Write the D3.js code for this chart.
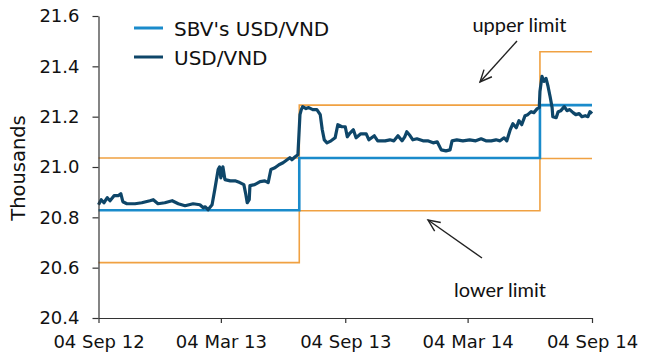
<!DOCTYPE html>
<html>
<head>
<meta charset="utf-8">
<script src="https://cdn.jsdelivr.net/npm/d3@7/dist/d3.min.js"></script>
<style>
  html, body { margin: 0; padding: 0; background: #fff; }
  svg { display: block; }
</style>
</head>
<body>
<svg id="chart" width="660" height="360"></svg>
<script>
// ---- data ----
const xTickDates = ["2012-09-04", "2013-03-04", "2013-09-04", "2014-03-04", "2014-09-04"];
const xTickLabels = ["04 Sep 12", "04 Mar 13", "04 Sep 13", "04 Mar 14", "04 Sep 14"];
const yTicks = [20.4, 20.6, 20.8, 21.0, 21.2, 21.4, 21.6];

// SBV central rate and band (thousand VND per USD), step changes
const sbvDates = ["2012-09-04", "2013-06-28", "2014-06-19", "2014-09-04"];
const sbvRate = [20.828, 21.036, 21.246, 21.246];
const upperLimit = [21.036, 21.246, 21.458, 21.458];
const lowerLimit = [20.620, 20.826, 21.034, 21.034];

// Market USD/VND
const usdDates = [
  "2012-09-04","2012-09-08","2012-09-12","2012-09-17","2012-09-21","2012-09-27","2012-10-03","2012-10-07",
  "2012-10-10","2012-10-16","2012-10-28","2012-11-07","2012-11-19","2012-11-24","2012-12-01","2012-12-11",
  "2012-12-22","2012-12-31","2013-01-10","2013-01-22","2013-02-01","2013-02-06","2013-02-09","2013-02-13",
  "2013-02-19","2013-02-23","2013-02-28","2013-03-02","2013-03-04","2013-03-07","2013-03-10","2013-03-18",
  "2013-03-25","2013-04-01","2013-04-07","2013-04-10","2013-04-12","2013-04-15","2013-04-16","2013-04-23",
  "2013-05-01","2013-05-08","2013-05-13","2013-05-17","2013-05-23","2013-05-29","2013-06-04","2013-06-08",
  "2013-06-14","2013-06-17","2013-06-22","2013-06-26","2013-06-29","2013-07-01","2013-07-03","2013-07-08",
  "2013-07-12","2013-07-18","2013-07-24","2013-07-29","2013-08-01","2013-08-04","2013-08-08","2013-08-14",
  "2013-08-20","2013-08-24","2013-08-30","2013-09-04","2013-09-07","2013-09-11","2013-09-16","2013-09-20",
  "2013-09-27","2013-10-05","2013-10-09","2013-10-17","2013-10-22","2013-11-02","2013-11-09","2013-11-15",
  "2013-11-21","2013-11-27","2013-12-01","2013-12-04","2013-12-09","2013-12-13","2013-12-19","2013-12-28",
  "2014-01-04","2014-01-12","2014-01-18","2014-01-24","2014-01-31","2014-02-06","2014-02-09","2014-02-16",
  "2014-02-25","2014-03-07","2014-03-16","2014-03-24","2014-03-31","2014-04-08","2014-04-15","2014-04-21",
  "2014-04-27","2014-05-01","2014-05-06","2014-05-10","2014-05-15","2014-05-19","2014-05-23","2014-05-28",
  "2014-06-01","2014-06-06","2014-06-10","2014-06-15","2014-06-18","2014-06-19","2014-06-22","2014-06-25",
  "2014-06-28","2014-07-01","2014-07-04","2014-07-07","2014-07-08","2014-07-13","2014-07-16","2014-07-20",
  "2014-07-25","2014-07-29","2014-08-02","2014-08-07","2014-08-11","2014-08-16","2014-08-20","2014-08-25",
  "2014-08-29","2014-09-01","2014-09-04"
];
const usdValues = [
  20.850,20.870,20.858,20.878,20.866,20.886,20.886,20.894,
  20.862,20.854,20.854,20.858,20.866,20.870,20.854,20.858,
  20.866,20.854,20.846,20.854,20.850,20.838,20.842,20.830,
  20.850,20.910,20.990,21.000,20.957,21.001,20.950,20.945,
  20.945,20.938,20.930,20.890,20.858,20.870,20.926,20.930,
  20.942,20.945,20.938,20.990,20.997,21.009,21.017,21.025,
  21.037,21.029,21.041,21.049,21.208,21.228,21.240,21.232,
  21.236,21.228,21.228,21.208,21.148,21.108,21.096,21.104,
  21.116,21.168,21.160,21.160,21.120,21.135,21.148,21.116,
  21.132,21.132,21.108,21.124,21.104,21.104,21.108,21.104,
  21.124,21.104,21.120,21.140,21.124,21.108,21.112,21.104,
  21.104,21.096,21.100,21.068,21.064,21.068,21.104,21.108,
  21.104,21.108,21.104,21.112,21.104,21.104,21.108,21.104,
  21.116,21.104,21.148,21.172,21.156,21.184,21.168,21.204,
  21.208,21.220,21.216,21.232,21.236,21.300,21.360,21.340,
  21.352,21.320,21.280,21.236,21.200,21.196,21.220,21.224,
  21.240,21.224,21.228,21.216,21.208,21.212,21.200,21.204,
  21.200,21.220,21.212
];

const legendLabels = ["SBV's USD/VND", "USD/VND"];
const yTitle = "Thousands";
const upperText = "upper limit";
const lowerText = "lower limit";

// ---- chart ----
const parse = d3.utcParse("%Y-%m-%d");
const svg = d3.select("#chart");
const plotLeft = 98.5, plotRight = 592, plotTop = 16, plotBottom = 318;

const x = d3.scaleUtc()
  .domain([parse(xTickDates[0]), parse(xTickDates[xTickDates.length - 1])])
  .range([plotLeft, plotRight]);
const y = d3.scaleLinear().domain([20.4, 21.6]).range([plotBottom, plotTop]);

const colOrange = "#f0a142", colBlue = "#1a8bcb", colNavy = "#0e4669", axisCol = "#333";
const tickFont = "DejaVu Sans, Verdana, sans-serif";

function stepSeries(vals) {
  return sbvDates.map((d, i) => ({ date: parse(d), v: vals[i] }));
}
const stepLine = d3.line().x(d => x(d.date)).y(d => y(d.v)).curve(d3.curveStepAfter);

svg.append("path").datum(stepSeries(upperLimit))
  .attr("d", stepLine).attr("fill", "none").attr("stroke", colOrange).attr("stroke-width", 1.6);
svg.append("path").datum(stepSeries(lowerLimit))
  .attr("d", stepLine).attr("fill", "none").attr("stroke", colOrange).attr("stroke-width", 1.6);
svg.append("path").datum(stepSeries(sbvRate))
  .attr("d", stepLine).attr("fill", "none").attr("stroke", colBlue).attr("stroke-width", 2.6);

const usd = usdDates.map((d, i) => ({ date: parse(d), v: usdValues[i] }));
svg.append("path").datum(usd)
  .attr("d", d3.line().x(d => x(d.date)).y(d => y(d.v)))
  .attr("fill", "none").attr("stroke", colNavy).attr("stroke-width", 3.2)
  .attr("stroke-linejoin", "round");

// axes
const xAxis = d3.axisBottom(x)
  .tickValues(xTickDates.map(parse))
  .tickFormat((d, i) => xTickLabels[i])
  .tickSize(5).tickSizeOuter(0).tickPadding(12);
const gx = svg.append("g").attr("transform", `translate(0,${plotBottom})`).call(xAxis);

const yAxis = d3.axisLeft(y).tickValues(yTicks).tickFormat(d3.format(".1f"))
  .tickSize(6).tickSizeOuter(0).tickPadding(13);
const gy = svg.append("g").attr("transform", `translate(${plotLeft},0)`).call(yAxis);

[gx, gy].forEach(g => {
  g.selectAll("path, line").attr("stroke", axisCol).attr("stroke-width", 1.2);
  g.selectAll("text").attr("font-family", tickFont).attr("font-size", 18).attr("fill", "#111");
});

svg.append("text")
  .attr("transform", `translate(25,168) rotate(-90)`)
  .attr("text-anchor", "middle")
  .attr("font-family", tickFont).attr("font-size", 19.5).attr("fill", "#111")
  .text(yTitle);

// legend
const legendCols = [colBlue, colNavy];
const legendY = [28, 57];
legendLabels.forEach((lab, i) => {
  svg.append("line").attr("x1", 134).attr("x2", 163).attr("y1", legendY[i]).attr("y2", legendY[i])
    .attr("stroke", legendCols[i]).attr("stroke-width", 3);
  svg.append("text").attr("x", 174).attr("y", legendY[i] + 7.5)
    .attr("font-family", tickFont).attr("font-size", 20).attr("fill", "#111").text(lab);
});

// annotations
const annFont = "Lato, 'Open Sans', sans-serif";
svg.append("text").attr("x", 519.5).attr("y", 32).attr("text-anchor", "middle")
  .attr("font-family", annFont).attr("font-size", 20).attr("fill", "#111").text(upperText);
svg.append("text").attr("x", 500).attr("y", 297).attr("text-anchor", "middle")
  .attr("font-family", annFont).attr("font-size", 20).attr("fill", "#111").text(lowerText);

function arrow(x1, y1, x2, y2) {
  svg.append("line").attr("x1", x1).attr("y1", y1).attr("x2", x2).attr("y2", y2)
    .attr("stroke", "#222").attr("stroke-width", 1.4);
  const a = Math.atan2(y1 - y2, x1 - x2), L = 13, w = 0.42;
  const p1 = [x2 + L * Math.cos(a + w), y2 + L * Math.sin(a + w)];
  const p2 = [x2 + L * Math.cos(a - w), y2 + L * Math.sin(a - w)];
  svg.append("path").attr("d", `M${p1}L${x2},${y2}L${p2}`)
    .attr("fill", "none").attr("stroke", "#222").attr("stroke-width", 1.4);
}
arrow(517, 41, 480, 82);
arrow(482, 258, 428, 220);
</script>
</body>
</html>
